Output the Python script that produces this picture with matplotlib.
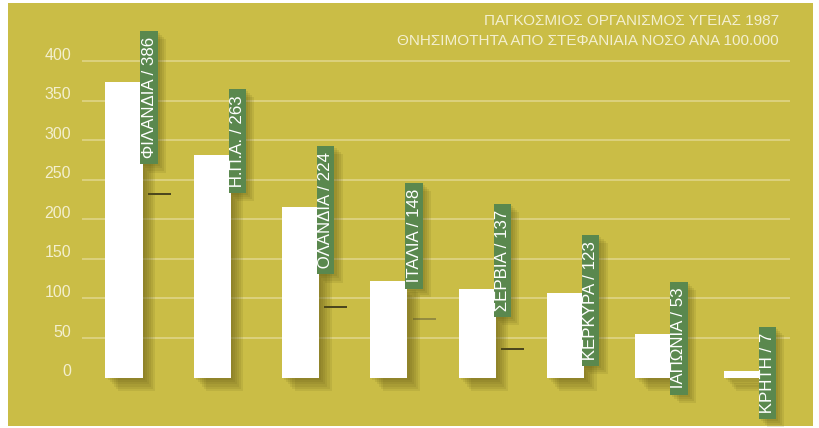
import matplotlib.pyplot as plt
import matplotlib.patheffects as pe

# data
countries = ['ΦΙΛΑΝΔΙΑ', 'Η.Π.Α.', 'ΟΛΑΝΔΙΑ', 'ΙΤΑΛΙΑ', 'ΣΕΡΒΙΑ', 'ΚΕΡΚΥΡΑ', 'ΙΑΠΩΝΙΑ', 'ΚΡΗΤΗ']
label_values = [386, 263, 224, 148, 137, 123, 53, 7]
bar_heights = [374, 281, 215, 122, 112, 107, 55, 8]      # as drawn in the picture
dash_values = [232, None, 89, 74, 36, None, None, None]   # small dark marks beside some bars
yticks = [0, 50, 100, 150, 200, 250, 300, 350, 400]
title_lines = ['ΠΑΓΚΟΣΜΙΟΣ ΟΡΓΑΝΙΣΜΟΣ ΥΓΕΙΑΣ 1987',
               'ΘΝΗΣΙΜΟΤΗΤΑ ΑΠΟ ΣΤΕΦΑΝΙΑΙΑ ΝΟΣΟ ΑΝΑ 100.000']

# layout: bottom edge of each label box (data units)
label_base = [271, 235, 132, 114, 78, 16, -20, -51]

olive = '#cabd46'
green = '#5a884e'
light = '#f3efcf'

plt.rcParams['font.family'] = ['Liberation Sans', 'DejaVu Sans']

fig = plt.figure(figsize=(8.19, 4.28), dpi=100, facecolor='white')
ax = fig.add_axes([8 / 819, 2 / 428, 805 / 819, 423 / 428])
ax.set_facecolor(olive)
ax.set_xlim(-1.3137, 7.803)
ax.set_ylim(-61.3, 473.4)
ax.set_xticks([])
ax.set_yticks([])
for s in ax.spines.values():
    s.set_visible(False)

# grid lines
for v in yticks[1:]:
    ax.hlines(v, -0.476, 7.542, color='#ddd382', lw=1.3, zorder=1)
for v in yticks:
    ax.text(-0.600, v + 7.5, str(v), ha='right', va='center',
            fontsize=11.5, color=light, zorder=2)

# bars with a soft drop shadow
shadow = [pe.SimplePatchShadow(offset=(o, -o * 1.1), shadow_rgbFace='#5a5312', alpha=0.11)
          for o in (1.5, 3, 4.5, 6, 7.5, 9)] + [pe.Normal()]
x = list(range(len(countries)))
bars = ax.bar(x, bar_heights, width=0.42, color='white', zorder=3)
for b in bars:
    b.set_path_effects(shadow)

# small dark dashes
for i, v in enumerate(dash_values):
    if v is not None:
        c = '#8f8740' if i == 3 else '#3f3b1a'
        ax.hlines(v, i + 0.27, i + 0.53, color=c, lw=1.3, zorder=2)

# rotated labels in green boxes
for i, (name, val) in enumerate(zip(countries, label_values)):
    t = ax.text(i + 0.285, label_base[i], ' %s / %d ' % (name, val), rotation=90,
                ha='center', va='bottom', fontsize=12.2, color='white', zorder=5,
                bbox=dict(boxstyle='square,pad=0.07', fc=green, ec='none'))
    t.get_bbox_patch().set_path_effects(
        [pe.SimplePatchShadow(offset=(o, -o), shadow_rgbFace='#5a5312', alpha=0.12)
         for o in (1.5, 3, 4.5, 6)] + [pe.Normal()])

# title
fig.text(779 / 819, 1 - 21 / 428, title_lines[0], ha='right', va='center',
         fontsize=11, color=light)
fig.text(779 / 819, 1 - 41 / 428, title_lines[1], ha='right', va='center',
         fontsize=11, color=light)

fig.savefig('out.png', dpi=100, facecolor='white')
